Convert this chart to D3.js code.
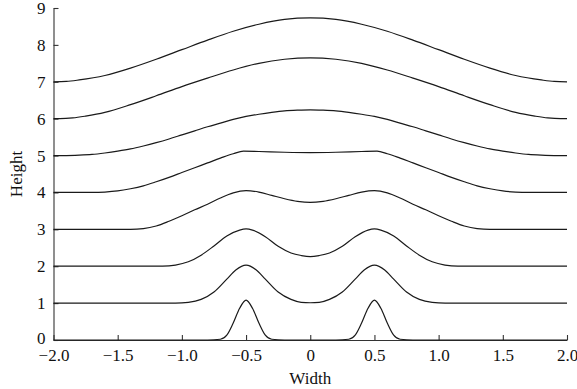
<!DOCTYPE html>
<html>
<head>
<meta charset="utf-8">
<script src="https://cdn.jsdelivr.net/npm/d3@7"></script>
<style>
  body { margin: 0; background: #fff; }
  text { font-family: "Liberation Serif", "Times New Roman", serif; }
</style>
</head>
<body>
<svg id="mainsvg" width="577" height="389"></svg>
<script>
// profiles: [width, height above the curve's own baseline]
const curve0 = [[-2,0],[-0.8,0],[-0.7,0.02],[-0.65,0.13],[-0.6,0.46],[-0.55,0.86],[-0.5,1.08],[-0.45,0.86],[-0.4,0.46],[-0.35,0.13],[-0.3,0.02],[-0.2,0],
                [0.2,0],[0.3,0.02],[0.35,0.13],[0.4,0.46],[0.45,0.86],[0.5,1.08],[0.55,0.86],[0.6,0.46],[0.65,0.13],[0.7,0.02],[0.8,0],[2,0]]
const curve1 = [[-2,0],[-1.05,0],[-0.95,0.02],[-0.85,0.1],[-0.75,0.3],[-0.65,0.65],[-0.58,0.9],[-0.5,1.03],[-0.42,0.9],[-0.35,0.65],[-0.25,0.3],[-0.15,0.1],[-0.07,0.02],[0,0.01],
                [0.07,0.02],[0.15,0.1],[0.25,0.3],[0.35,0.65],[0.42,0.9],[0.5,1.03],[0.58,0.9],[0.65,0.65],[0.75,0.3],[0.85,0.1],[0.95,0.02],[1.05,0],[2,0]]
const curve2 = [[-2,0],[-1.15,0],[-1.05,0.03],[-0.95,0.12],[-0.85,0.3],[-0.75,0.55],[-0.65,0.82],[-0.55,0.98],[-0.5,1.01],[-0.45,0.98],[-0.35,0.8],[-0.25,0.54],[-0.15,0.36],[-0.07,0.29],[0,0.26],
                [0.07,0.29],[0.15,0.36],[0.25,0.54],[0.35,0.8],[0.45,0.98],[0.5,1.01],[0.55,0.98],[0.65,0.82],[0.75,0.55],[0.85,0.3],[0.95,0.12],[1.05,0.03],[1.15,0],[2,0]]
const curve3 = [[-2,0],[-1.4,0],[-1.3,0.02],[-1.2,0.09],[-1.1,0.22],[-1.0,0.37],[-0.9,0.53],[-0.8,0.68],[-0.7,0.85],[-0.6,0.99],[-0.5,1.05],[-0.4,1.01],[-0.3,0.92],[-0.2,0.83],[-0.1,0.76],[0,0.73],
                [0.1,0.76],[0.2,0.83],[0.3,0.92],[0.4,1.01],[0.5,1.05],[0.6,0.99],[0.7,0.85],[0.8,0.68],[0.9,0.53],[1.0,0.37],[1.1,0.22],[1.2,0.09],[1.3,0.02],[1.4,0],[2,0]]
const curve4 = [[-2,0],[-1.7,0],[-1.6,0.01],[-1.5,0.04],[-1.4,0.1],[-1.3,0.18],[-1.2,0.29],[-1.1,0.41],[-1.0,0.54],[-0.9,0.67],[-0.8,0.8],[-0.7,0.93],[-0.6,1.05],[-0.52,1.12],[-0.4,1.11],[-0.2,1.09],[0,1.08],
                [0.2,1.09],[0.4,1.11],[0.52,1.12],[0.6,1.05],[0.7,0.93],[0.8,0.8],[0.9,0.67],[1.0,0.54],[1.1,0.41],[1.2,0.29],[1.3,0.18],[1.4,0.1],[1.5,0.04],[1.6,0.01],[1.7,0],[2,0]]
const curve5 = [[-2,0],[-1.9,0],[-1.8,0.01],[-1.7,0.03],[-1.6,0.07],[-1.5,0.12],[-1.4,0.18],[-1.3,0.26],[-1.2,0.35],[-1.1,0.45],[-1.0,0.56],[-0.9,0.67],[-0.8,0.78],[-0.7,0.88],[-0.6,0.98],[-0.5,1.06],[-0.4,1.12],[-0.3,1.17],[-0.2,1.21],[-0.1,1.23],[0,1.24],
                [0.1,1.23],[0.2,1.21],[0.3,1.17],[0.4,1.12],[0.5,1.06],[0.6,0.98],[0.7,0.88],[0.8,0.78],[0.9,0.67],[1.0,0.56],[1.1,0.45],[1.2,0.35],[1.3,0.26],[1.4,0.18],[1.5,0.12],[1.6,0.07],[1.7,0.03],[1.8,0.01],[1.9,0],[2,0]]
const curve6 = [[-2,0],[-1.95,0],[-1.85,0.02],[-1.75,0.07],[-1.6,0.17],[-1.4,0.38],[-1.2,0.62],[-1.0,0.87],[-0.8,1.1],[-0.6,1.32],[-0.4,1.5],[-0.2,1.61],[0,1.65],
                [0.2,1.61],[0.4,1.5],[0.6,1.32],[0.8,1.1],[1.0,0.87],[1.2,0.62],[1.4,0.38],[1.6,0.17],[1.75,0.07],[1.85,0.02],[1.95,0],[2,0]]
const curve7 = [[-2,0],[-1.9,0.01],[-1.8,0.05],[-1.6,0.17],[-1.4,0.37],[-1.2,0.61],[-1.0,0.87],[-0.8,1.13],[-0.6,1.37],[-0.4,1.56],[-0.2,1.69],[0,1.73],
                [0.2,1.69],[0.4,1.56],[0.6,1.37],[0.8,1.13],[1.0,0.87],[1.2,0.61],[1.4,0.37],[1.6,0.17],[1.8,0.05],[1.9,0.01],[2,0]]

const curves = [curve0, curve1, curve2, curve3, curve4, curve5, curve6, curve7]
const baselines = [0, 1, 2, 3, 4, 5, 6, 7]

const xTicks = [-2, -1.5, -1, -0.5, 0, 0.5, 1, 1.5, 2]
const yTicks = [0, 1, 2, 3, 4, 5, 6, 7, 8, 9]

const svg = d3.select("#mainsvg")

let x = d3.scaleLinear().domain([-2, 2]).range([53.5, 567])
let y = d3.scaleLinear().domain([0, 9]).range([340, 8])

// axes, ticks pointing inward
let xAxis = svg.append("g")
  .attr("transform", `translate(0, ${y(0)})`)
  .call(d3.axisBottom(x).tickValues(xTicks).tickSizeInner(-5).tickSizeOuter(0).tickPadding(9)
    .tickFormat(d => d === 0 ? "0" : d3.format(".1f")(d)))
let yAxis = svg.append("g")
  .attr("transform", `translate(${x(-2)}, 0)`)
  .call(d3.axisLeft(y).tickValues(yTicks).tickSizeInner(-5).tickSizeOuter(0).tickPadding(8))

// keep the "0" of the height axis clear of the "−2.0" under it
yAxis.selectAll(".tick text").filter(d => d === 0).attr("dy", "0.2em")

svg.selectAll(".tick text").attr("font-size", 17).attr("fill", "#111")
  .attr("font-family", "Liberation Serif, serif")
svg.selectAll(".domain, .tick line").attr("stroke", "#333").attr("stroke-width", 1.1)

// profiles
let line = d3.line()
  .x(d => x(d[0]))
  .y(d => y(d[1]))
  .curve(d3.curveMonotoneX)

svg.append("g").attr("id", "curves")
  .selectAll("path")
  .data(curves)
  .enter()
  .append("path")
  .attr("fill", "none")
  .attr("stroke", "#1a1a1a")
  .attr("stroke-width", 1.2)
  .attr("d", (c, i) => line(c.map(p => [p[0], p[1] + baselines[i]])))

// axis titles
svg.append("text")
  .attr("x", x(0)).attr("y", 384)
  .attr("text-anchor", "middle").attr("font-size", 17).attr("fill", "#111")
  .text("Width")
svg.append("text")
  .attr("transform", `translate(22, ${y(4.5)}) rotate(-90)`)
  .attr("text-anchor", "middle").attr("font-size", 17).attr("fill", "#111")
  .text("Height")
</script>
</body>
</html>
